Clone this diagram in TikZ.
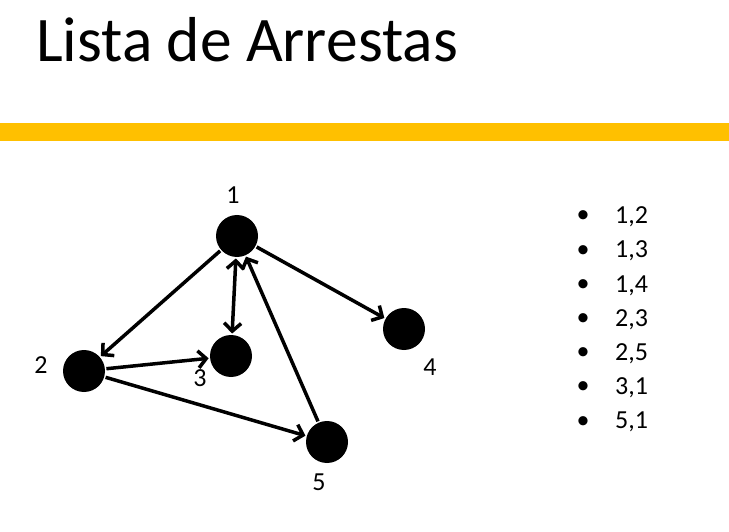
\documentclass[tikz,border=0pt]{standalone}
\usepackage{fontspec}
\setmainfont{Carlito}
\usepackage{tikz}
\usetikzlibrary{arrows.meta, positioning}
\definecolor{baryellow}{HTML}{FFC000}

\begin{document}
\begin{tikzpicture}[
    x=1pt, y=-1pt,
    vertex/.style={circle, fill=black, minimum size=42pt, inner sep=0pt, outer sep=1.5pt},
    vlabel/.style={inner sep=0pt, font=\fontsize{26}{31}\selectfont},
    item/.style={inner sep=0pt, font=\fontsize{26}{31}\selectfont},
    arrow/.style={-{Straight Barb[length=8pt, width=17pt]}, line width=3.5pt},
    both/.style={{Straight Barb[length=8pt, width=17pt]}-{Straight Barb[length=8pt, width=17pt]}, line width=3.5pt}
]
    \useasboundingbox (0,0) rectangle (729,532);

    % title and bar
    \node[anchor=base west, inner sep=0pt, font=\fontsize{63.5}{70}\selectfont] (title) at (36,62) {Lista de Arrestas};
    \fill[baryellow] (0,123) rectangle (729,141);

    \node[vertex] (n1) at (237,236) {};
    \node[vertex] (n2) at (84,371) {};
    \node[vertex] (n3) at (231,356) {};
    \node[vertex] (n4) at (404,329) {};
    \node[vertex] (n5) at (327,442) {};

    \node[vlabel] (l1) at (233,195) {1};
    \node[vlabel] (l2) at (41,365) {2};
    \node[vlabel] (l3) at (200,378) {3};
    \node[vlabel] (l4) at (430,367) {4};
    \node[vlabel] (l5) at (319,482) {5};

    \draw[arrow] (n1) -- (n2);
    \draw[both] (n1) -- (n3);
    \draw[arrow] (n1) -- (n4);
    \draw[arrow] (n2) -- (n3);
    \draw[arrow] (n2) -- (n5);
    \draw[arrow] (n5) -- (n1);

    % edge list
    \foreach \pr [count=\i from 0] in {{1,2},{1,3},{1,4},{2,3},{2,5},{3,1},{5,1}} {
        \node[item] (b\i) at (583,217+34.2*\i) {\textbullet};
        \node[item, anchor=west] (e\i) at (615,217+34.2*\i) {\pr};
    }
\end{tikzpicture}
\end{document}
